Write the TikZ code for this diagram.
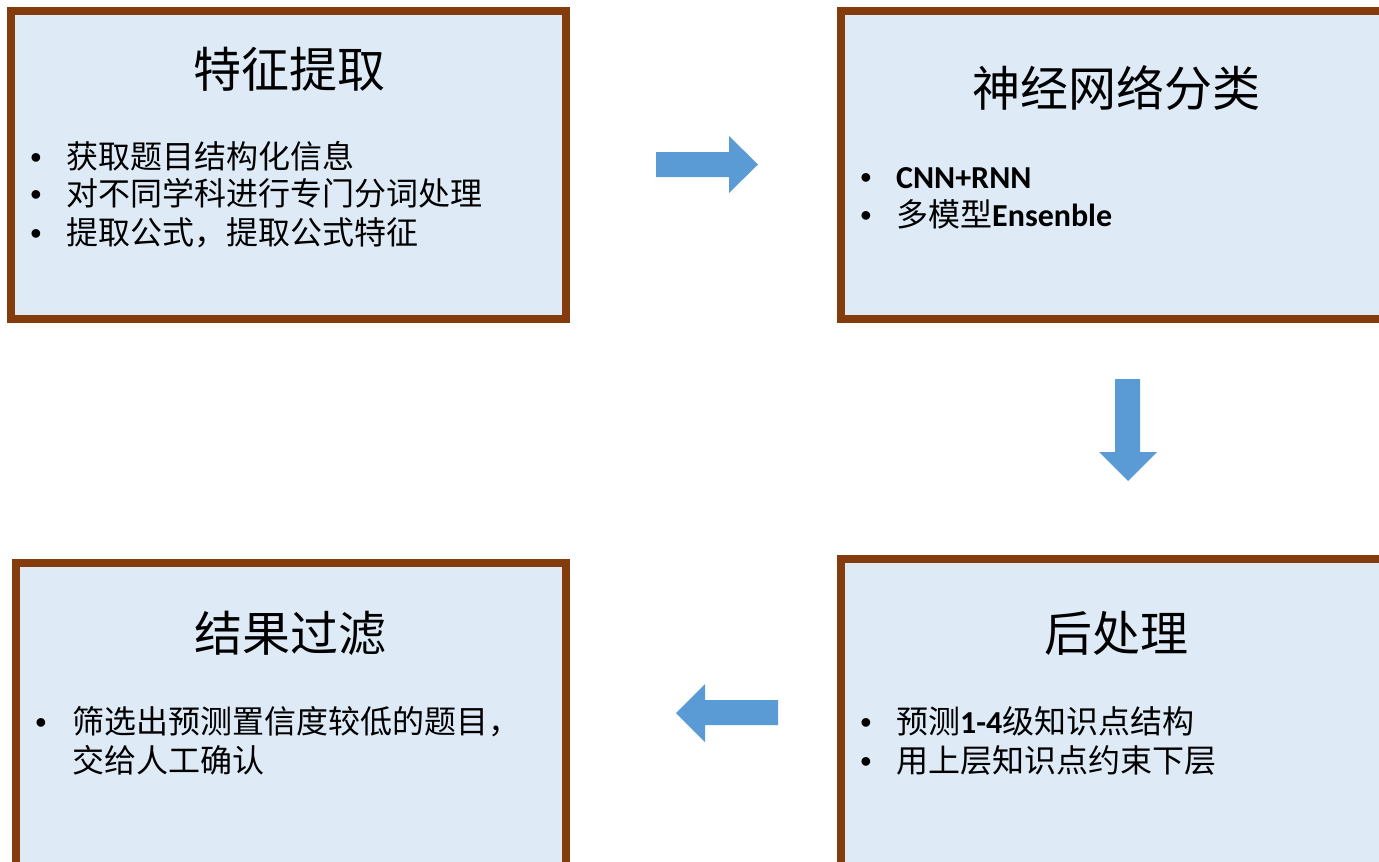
\documentclass[tikz,border=0pt]{standalone}
\usepackage{fontspec}
\setmainfont{Noto Sans CJK SC}
\newfontfamily\lat{Carlito}
\newfontfamily\bul{Liberation Sans}
\definecolor{boxborder}{HTML}{843C0C}
\definecolor{boxfill}{HTML}{DEEBF7}
\definecolor{arrowblue}{HTML}{5B9BD5}
\begin{document}
\begin{tikzpicture}[x=1pt,y=-1pt,
  box/.style={draw=boxborder,fill=boxfill,line width=8pt,rectangle,inner sep=0pt},
  title/.style={anchor=base,inner sep=0pt,font=\fontsize{48}{48}\selectfont},
  item/.style={anchor=base west,inner sep=0pt,font=\fontsize{32}{38}\selectfont},
  dot/.style={anchor=base,inner sep=0pt,font=\bul\fontsize{32}{38}\selectfont},
  blockarrow/.style={fill=arrowblue,draw=none}]
\useasboundingbox (0,0) rectangle (1379,862);
\clip (0,0) rectangle (1379,862);
\fill[white] (0,0) rectangle (1379,862);
% boxes
\node[box,minimum width=555pt,minimum height=308pt] (b1) at (288.5,165) {};
\node[box,minimum width=559pt,minimum height=308pt] (b2) at (1120.5,165) {};
\node[box,minimum width=559pt,minimum height=341pt] (b3) at (1120.5,729.5) {};
\node[box,minimum width=550pt,minimum height=337pt] (b4) at (291,731.5) {};
% titles
\node[title] (t1) at (289,87) {特征提取};
\node[title] (t2) at (1116,106) {神经网络分类};
\node[title] (t3) at (1116,651) {后处理};
\node[title] (t4) at (290,651) {结果过滤};
% box 1 items
\node[dot] (d11) at (36,168) {•};
\node[dot] (d12) at (36,205) {•};
\node[dot] (d13) at (36,244) {•};
\node[item] (i11) at (66,168) {获取题目结构化信息};
\node[item] (i12) at (66,205) {对不同学科进行专门分词处理};
\node[item] (i13) at (66,244) {提取公式，提取公式特征};
% box 2 items
\node[dot] (d21) at (866,188) {•};
\node[dot] (d22) at (866,226) {•};
\node[item] (i21) at (896,188) {{\lat\bfseries CNN+RNN}};
\node[item] (i22) at (896,226) {多模型{\lat\bfseries Ensenble}};
% box 3 items
\node[dot] (d31) at (866,733) {•};
\node[dot] (d32) at (866,772) {•};
\node[item] (i31) at (896,733) {预测{\lat\bfseries 1-4}级知识点结构};
\node[item] (i32) at (896,772) {用上层知识点约束下层};
% box 4 items
\node[dot] (d41) at (41,733) {•};
\node[item] (i41) at (72,733) {筛选出预测置信度较低的题目，};
\node[item] (i42) at (72,772) {交给人工确认};
% block arrows
\fill[blockarrow] (656,152) -- (729,152) -- (729,136) -- (758,164.5) -- (729,193) -- (729,177) -- (656,177) -- cycle;
\fill[blockarrow] (1115,379) -- (1140,379) -- (1140,452) -- (1157,452) -- (1128,481) -- (1099,452) -- (1115,452) -- cycle;
\fill[blockarrow] (778,700) -- (705,700) -- (705,684) -- (676,713) -- (705,742) -- (705,725) -- (778,725) -- cycle;
\end{tikzpicture}
\end{document}
